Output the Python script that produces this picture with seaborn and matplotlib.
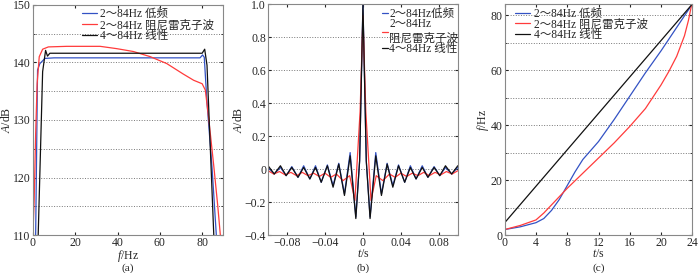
import matplotlib
matplotlib.use("Agg")
import matplotlib.pyplot as plt
import seaborn as sns
import pandas as pd
import numpy as np

sns.set_style("ticks")
plt.rcParams['font.family'] = ['Liberation Serif', 'Noto Sans CJK SC']
plt.rcParams['mathtext.fontset'] = 'custom'
plt.rcParams['mathtext.it'] = 'Liberation Serif:italic'
plt.rcParams['mathtext.rm'] = 'Liberation Serif'
plt.rcParams['font.size'] = 8.5

labels = ['2～84Hz 低频', '2～84Hz 阻尼雷克子波', '4～84Hz 线性']
labels_b = ['2～84Hz低频', '2～84Hz\n阻尼雷克子波', '4～84Hz 线性']
colors = ['#3352c4', '#ff3b3b', '#111111']

# (a) amplitude spectra
fa_blue = [1.3, 2.2, 3.3, 5.7, 10, 40, 79, 80.2, 81, 82.3, 84.7, 86.7]
Aa_blue = [110, 138.7, 139.8, 140.7, 140.8, 140.8, 140.8, 141.3, 140.9, 133, 121.6, 110]
fa_red = [0, 0.6, 1.3, 2, 3, 4.6, 7.3, 16, 31.8, 39.6, 47.5, 55.5, 63.3, 71, 76, 80, 81.5, 83, 85.5, 87.4, 88.6]
Aa_red = [110, 116, 127.6, 136.3, 141, 142.3, 142.7, 142.8, 142.8, 142.4, 141.9, 141, 139.8, 138, 136.9, 136.3, 135.2, 130.6, 122, 115, 110]
fa_black = [2.5, 4.6, 6, 6.9, 8, 40, 80, 81.2, 82.3, 85.5]
Aa_black = [110, 138.4, 142.1, 141.1, 141.6, 141.6, 141.6, 142.3, 139.5, 110]

# (b) wavelets
tb_blue = [-0.1, -0.0935, -0.087, -0.081, -0.075, -0.0685, -0.0625, -0.056, -0.05, -0.044, -0.0375, -0.0315,
           -0.0255, -0.0195, -0.0135, -0.0075, -0.0035, 0, 0.0035, 0.0075, 0.0135, 0.0195, 0.0255, 0.0315,
           0.0375, 0.044, 0.05, 0.056, 0.0625, 0.0685, 0.075, 0.081, 0.087, 0.0935, 0.1]
Ab_blue = [0.01, -0.03, 0.01, -0.04, 0.015, -0.05, 0.02, -0.06, 0.02, -0.08, 0.025, -0.10,
           0.035, -0.15, 0.10, -0.29, 0.05, 1.0, 0.05, -0.29, 0.10, -0.15, 0.035, -0.10,
           0.025, -0.08, 0.02, -0.06, 0.02, -0.05, 0.015, -0.04, 0.01, -0.03, 0.01]
tb_red = [-0.1, -0.094, -0.088, -0.082, -0.076, -0.07, -0.064, -0.058, -0.052, -0.046, -0.04, -0.034,
          -0.028, -0.021, -0.014, -0.0085, -0.003, 0, 0.003, 0.0085, 0.014, 0.021, 0.028, 0.034,
          0.04, 0.046, 0.052, 0.058, 0.064, 0.07, 0.076, 0.082, 0.088, 0.094, 0.1]
Ab_red = [-0.01, -0.03, -0.015, -0.035, -0.02, -0.04, -0.02, -0.04, -0.025, -0.045, -0.025, -0.05,
          -0.03, -0.07, -0.04, -0.19, 0.35, 0.93, 0.35, -0.19, -0.04, -0.07, -0.03, -0.05,
          -0.025, -0.045, -0.025, -0.04, -0.02, -0.04, -0.02, -0.035, -0.015, -0.03, -0.01]
tb_black = tb_blue
Ab_black = [0.02, -0.03, 0.02, -0.04, 0.01, -0.05, 0.01, -0.06, 0.01, -0.08, 0.02, -0.11,
            0.03, -0.16, 0.08, -0.30, 0.05, 1.0, 0.05, -0.30, 0.08, -0.16, 0.03, -0.11,
            0.02, -0.08, 0.01, -0.06, 0.01, -0.05, 0.01, -0.04, 0.02, -0.03, 0.02]

# (c) time-frequency
tc_blue = [0, 2, 4, 5, 6, 7, 8, 9, 10, 12, 14, 16, 18, 20, 22, 24]
fc_blue = [2, 3, 4.5, 6, 9, 13, 18, 23, 27.5, 34, 42, 50.5, 59, 67, 75.5, 84]
tc_red = [0, 2, 4, 5, 6, 7, 8, 10, 12, 14, 16, 18, 20, 21, 22, 23, 23.5, 24]
fc_red = [2, 3.5, 5.5, 8, 11, 14, 17, 22.5, 28, 33.5, 39.5, 46, 54.6, 59.5, 65, 72.5, 78, 85]
tc_black = [0, 24]
fc_black = [4.5, 84]


def frame(xs, ys, lab):
    return pd.DataFrame({'x': xs, 'y': ys, 'series': lab})


fig = plt.figure(figsize=(7, 2.73), dpi=100)
axa = fig.add_axes([0.047, 0.139, 0.272, 0.843])
axb = fig.add_axes([0.383, 0.139, 0.271, 0.846])
axc = fig.add_axes([0.721, 0.139, 0.268, 0.846])

def draw(ax, sets, labs):
    df = pd.concat([frame(x, y, l) for (x, y), l in zip(sets, labs)])
    sns.lineplot(data=df, x='x', y='y', hue='series', palette=dict(zip(labs, colors)),
                 sort=False, estimator=None, lw=0.9, ax=ax)

draw(axa, [(fa_blue, Aa_blue), (fa_red, Aa_red), (fa_black, Aa_black)], labels)
draw(axb, [(tb_blue, Ab_blue), (tb_red, Ab_red), (tb_black, Ab_black)], labels_b)
draw(axc, [(tc_blue, fc_blue), (tc_red, fc_red), (tc_black, fc_black)], labels)

axa.set_xlim(0, 90); axa.set_ylim(110, 150)
axa.set_xticks([0, 20, 40, 60, 80]); axa.set_yticks([110, 120, 130, 140, 150])
axa.set_yticks(np.arange(115, 150, 10), minor=True)
axb.set_xlim(-0.1, 0.1); axb.set_ylim(-0.4, 1.0)
axb.set_xticks([-0.08, -0.04, 0, 0.04, 0.08])
axb.set_xticklabels(['−0.08', '−0.04', '0', '0.04', '0.08'])
axb.set_yticks(np.arange(-0.4, 1.01, 0.2))
axb.set_yticklabels(['−0.4', '−0.2', '0', '0.2', '0.4', '0.6', '0.8', '1.0'])
axc.set_xlim(0, 24); axc.set_ylim(0, 84)
axc.set_xticks(range(0, 25, 4)); axc.set_yticks([0, 20, 40, 60, 80])
axc.set_yticks([10, 30, 50, 70], minor=True)

xl = ['$f$/Hz', '$t$/s', '$t$/s']
yl = ['$A$/dB', '$A$/dB', '$f$/Hz']
caps = ['(a)', '(b)', '(c)']
for ax, x, y, c in zip([axa, axb, axc], xl, yl, caps):
    ax.set_xlabel(x, labelpad=-1)
    ax.set_ylabel(y, labelpad=0)
    pos = ax.get_position()
    fig.text(pos.x0 + pos.width / 2, 1 - 268 / 273, c, ha='center', va='center', fontsize=8.2)
    ax.tick_params(direction='in', top=True, right=True, length=2, pad=1.5, labelsize=8.5)
    ax.tick_params(which='minor', direction='in', top=True, right=True, length=1.5)
    ax.grid(axis='y', which='both', ls=':', color='#777777', lw=0.7)
    for s in ax.spines.values():
        s.set_color('#888888'); s.set_linewidth(0.8)

leg_kw = dict(frameon=False, borderaxespad=0.2, labelspacing=-0.1, fontsize=8.3)
axa.legend(loc='upper right', bbox_to_anchor=(0.99, 1.015), handlelength=1.3,
           handletextpad=0.3, **leg_kw)
axb.legend(loc='upper right', bbox_to_anchor=(1.04, 1.015), handlelength=0.5,
           handletextpad=0.15, **leg_kw)
axc.legend(loc='upper left', bbox_to_anchor=(0.02, 1.015), handlelength=1.3,
           handletextpad=0.3, **leg_kw)

fig.savefig('out.png', dpi=100)
